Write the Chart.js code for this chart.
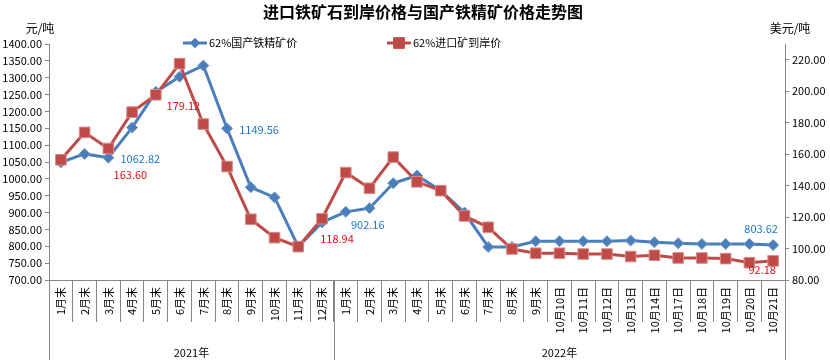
<!DOCTYPE html>
<html>
<head>
<meta charset="utf-8">
<script src="https://cdn.jsdelivr.net/npm/chart.js@4.4.0/dist/chart.umd.min.js"></script>
<style>
  body { margin: 0; background: #fff; }
</style>
</head>
<body>
<canvas id="myChart" width="830" height="360"></canvas>
<script>
const categories = ['1月末','2月末','3月末','4月末','5月末','6月末','7月末','8月末','9月末','10月末','11月末','12月末',
    '1月末','2月末','3月末','4月末','5月末','6月末','7月末','8月末','9月末',
    '10月10日','10月11日','10月12日','10月13日','10月14日','10月17日','10月18日','10月19日','10月20日','10月21日']
const years = ['2021年', '2022年']
const yearSizes = [12, 19]

// 62%国产铁精矿价 (元/吨, left axis)
const domestic = [1049, 1074, 1062.82, 1152, 1258, 1303, 1336, 1149.56, 975, 945, 799, 871,
    902.16, 913, 987, 1010, 965, 900, 798, 798, 815,
    815, 815, 815, 817, 812, 809, 807, 807, 807, 803.62]
// 62%进口矿到岸价 (美元/吨, right axis)
const imported = [156.4, 173.8, 163.60, 186.7, 197.7, 217.5, 179.12, 152.1, 118.6, 106.9, 101.2, 118.94,
    148.3, 138.3, 158.1, 142.4, 136.8, 120.7, 113.5, 99.7, 97,
    97, 96.5, 96.5, 94.9, 95.7, 94, 94, 93.6, 91, 92.18]

const leftTicks = [700, 1400, 50]
const rightTicks = [80, 220, 20]
const rightMax = 230

// points that carry a value label
const domesticMarked = [2, 7, 12, 30]
const importedMarked = [2, 6, 11, 30]

const FONT = '"Noto Sans CJK SC", "Noto Sans", sans-serif'
const AXIS = '#868686'
const BLUE = '#4A7EBB'
const RED = '#BE4B48'

// offsets of value labels from their points
const labelOffsets = {
    0: { 2: [32, 1], 7: [32, 1], 12: [22, 13], 30: [-12, -16] },
    1: { 2: [22, 26], 6: [-20, -18], 11: [15, 20], 30: [-11, 9] }
}

const extras = {
    id: 'extras',
    afterDraw(chart) {
        const ctx = chart.ctx
        const x = chart.scales.x
        const area = chart.chartArea
        ctx.save()

        // title
        ctx.fillStyle = '#000'
        ctx.textAlign = 'center'
        ctx.textBaseline = 'middle'
        ctx.font = 'bold 16px ' + FONT
        ctx.fillText('进口铁矿石到岸价格与国产铁精矿价格走势图', 423, 12)

        // axis units
        ctx.font = '12px ' + FONT
        ctx.fillText('元/吨', 40, 28)
        ctx.fillText('美元/吨', 790, 28)

        // legend
        const legend = [[183, BLUE, 'rectRot', 5, '62%国产铁精矿价'], [387, RED, 'rect', 8, '62%进口矿到岸价']]
        legend.forEach(([lx, color, style, r, text]) => {
            ctx.strokeStyle = color
            ctx.lineWidth = 3
            ctx.beginPath()
            ctx.moveTo(lx, 43)
            ctx.lineTo(lx + 24, 43)
            ctx.stroke()
            ctx.fillStyle = color
            Chart.helpers.drawPoint(ctx, { pointStyle: style, radius: r, borderWidth: 0 }, lx + 12, 43)
            ctx.fill()
            ctx.fillStyle = '#000'
            ctx.textAlign = 'left'
            ctx.font = '11px ' + FONT
            ctx.fillText(text, lx + 26, 43)
        })

        // category labels, rotated
        ctx.font = '11px ' + FONT
        ctx.fillStyle = '#000'
        ctx.textAlign = 'right'
        ctx.textBaseline = 'middle'
        categories.forEach((c, i) => {
            ctx.save()
            ctx.translate(x.getPixelForValue(i), area.bottom + 7)
            ctx.rotate(-Math.PI / 2)
            ctx.fillText(c, 0, 0)
            ctx.restore()
        })

        // year groups
        ctx.strokeStyle = AXIS
        ctx.lineWidth = 1
        ctx.textAlign = 'center'
        let start = 0
        const step = (area.right - area.left) / categories.length
        const edges = [area.left]
        years.forEach((y, k) => {
            const x0 = area.left + start * step
            const x1 = area.left + (start + yearSizes[k]) * step
            edges.push(x1)
            ctx.fillText(y, (x0 + x1) / 2, 353)
            start += yearSizes[k]
        })
        edges.forEach(e => {
            const px = Math.round(e) + 0.5
            ctx.beginPath()
            ctx.moveTo(px, area.bottom)
            ctx.lineTo(px, 360)
            ctx.stroke()
        })

        // value labels
        ctx.font = '11px ' + FONT
        const marks = [[domesticMarked, domestic, '#1B75D0'], [importedMarked, imported, '#E0101A']]
        marks.forEach(([idx, values, color], d) => {
            const meta = chart.getDatasetMeta(d)
            ctx.fillStyle = color
            idx.forEach(i => {
                const p = meta.data[i]
                const off = labelOffsets[d][i]
                ctx.fillText(values[i].toFixed(2), p.x + off[0], p.y + off[1])
            })
        })
        ctx.restore()
    }
}

const ctx = document.getElementById('myChart').getContext('2d')
const myChart = new Chart(ctx, {
    type: 'line',
    data: {
        labels: categories,
        datasets: [{
            label: '62%国产铁精矿价',
            data: domestic,
            yAxisID: 'y',
            borderColor: BLUE,
            backgroundColor: BLUE,
            borderWidth: 3,
            pointStyle: 'rectRot',
            pointRadius: 5.5,
            pointBorderColor: '#6F98C9',
            pointBorderWidth: 1,
            tension: 0,
            order: 2
        }, {
            label: '62%进口矿到岸价',
            data: imported,
            yAxisID: 'y1',
            borderColor: RED,
            backgroundColor: RED,
            borderWidth: 3,
            pointStyle: 'rect',
            pointRadius: 7.5,
            pointBorderColor: '#D58C8A',
            pointBorderWidth: 1,
            tension: 0,
            order: 1
        }]
    },
    options: {
        responsive: false,
        animation: false,
        devicePixelRatio: 1,
        layout: { padding: { top: 44, left: 0, right: 0, bottom: 0 } },
        plugins: {
            legend: { display: false },
            title: { display: false },
            tooltip: { enabled: false }
        },
        scales: {
            x: {
                type: 'category',
                offset: true,
                grid: { offset: true, drawOnChartArea: false, tickLength: 42, color: AXIS },
                border: { color: AXIS },
                ticks: { display: false, autoSkip: false },
                afterFit: s => { s.height = 80 }
            },
            y: {
                position: 'left',
                min: leftTicks[0],
                max: leftTicks[1],
                grid: { drawOnChartArea: false, tickLength: 4, color: AXIS },
                border: { color: AXIS },
                ticks: {
                    stepSize: leftTicks[2],
                    padding: 3,
                    color: '#000',
                    font: { family: FONT, size: 11 },
                    callback: v => v.toFixed(2)
                },
                afterFit: s => { s.width = 49 }
            },
            y1: {
                position: 'right',
                min: rightTicks[0],
                max: rightMax,
                grid: { drawOnChartArea: false, tickLength: 4, color: AXIS },
                border: { color: AXIS },
                ticks: {
                    stepSize: rightTicks[2],
                    padding: 3,
                    color: '#000',
                    font: { family: FONT, size: 11 },
                    callback: v => v.toFixed(2)
                },
                afterBuildTicks: s => { s.ticks = s.ticks.filter(t => t.value <= rightTicks[1]) },
                afterFit: s => { s.width = 45 }
            }
        }
    },
    plugins: [extras]
});
</script>
</body>
</html>
